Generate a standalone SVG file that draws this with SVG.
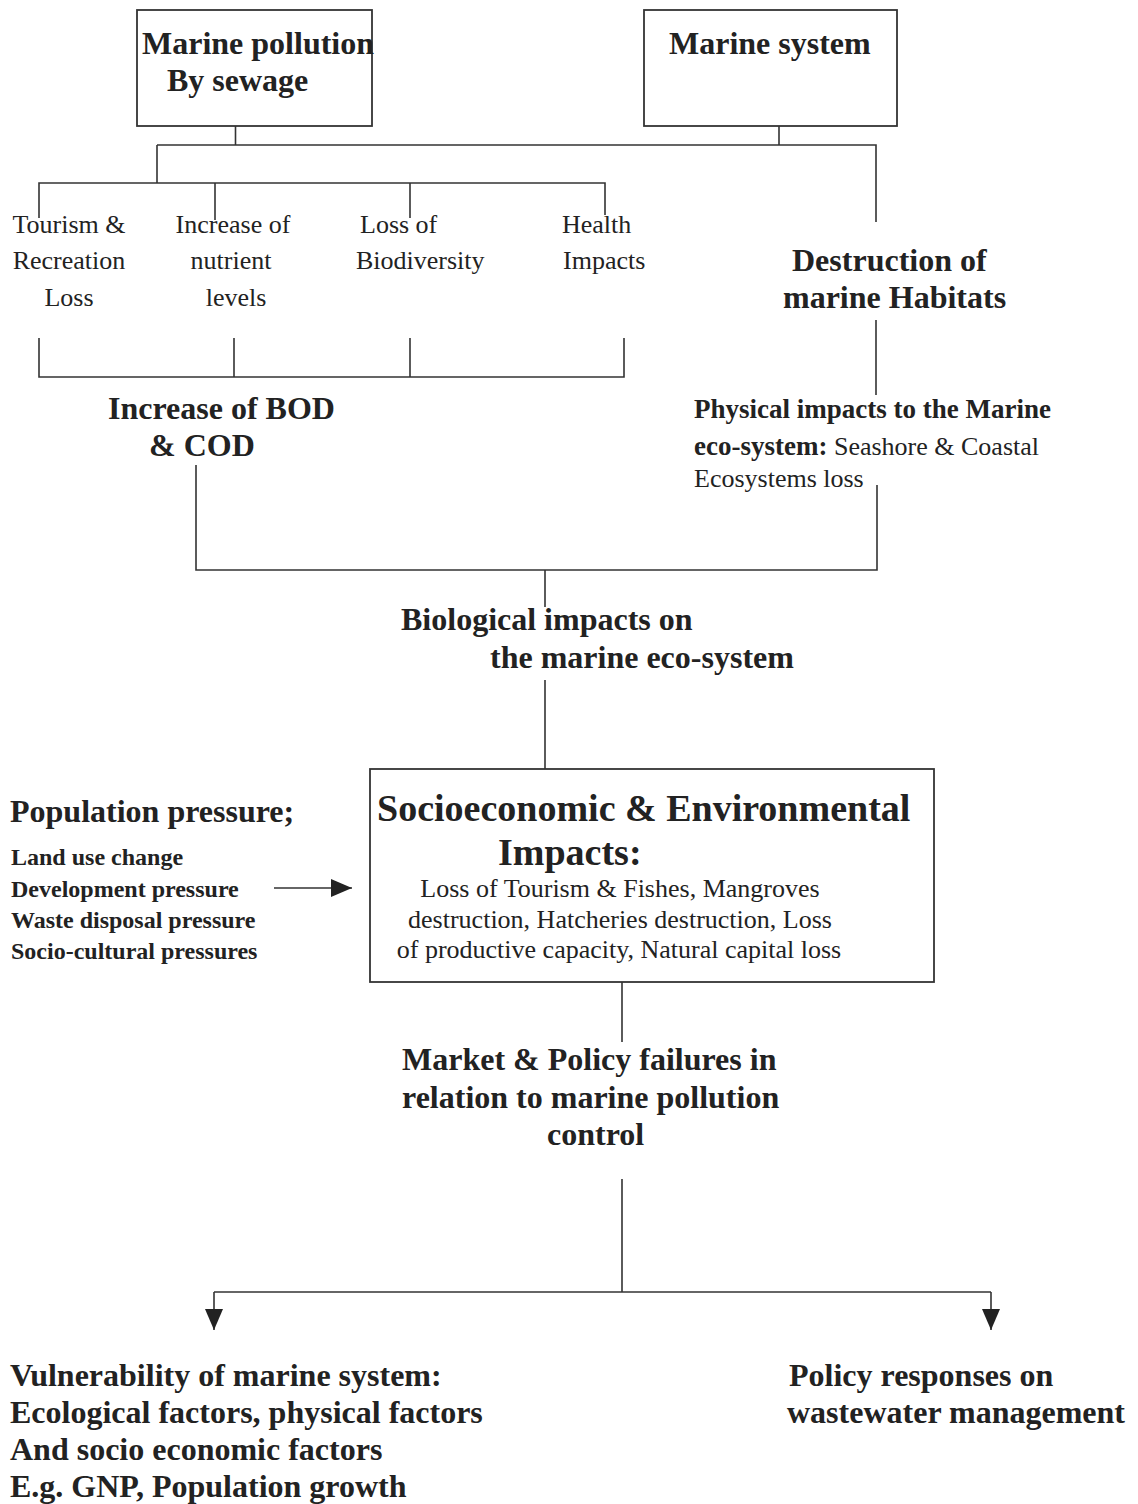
<svg xmlns="http://www.w3.org/2000/svg" width="1138" height="1504" viewBox="0 0 1138 1504">
<style>
text{font-family:"Liberation Serif","Times New Roman",serif;fill:#222}
.b{font-weight:bold;font-size:32px}
.r{font-size:26px}
.b26{font-weight:bold;font-size:27px}
.b24{font-weight:bold;font-size:24px}
.b37{font-weight:bold;font-size:38px}
.box{fill:none;stroke:#333;stroke-width:1.8}
.ln{fill:none;stroke:#333;stroke-width:1.6}
</style>
<defs>
<marker id="arr" viewBox="0 0 21 18" refX="21" refY="9" markerWidth="21" markerHeight="18" markerUnits="userSpaceOnUse" orient="auto">
<path d="M0,0 L21,9 L0,18 z" fill="#222"/>
</marker>
</defs>
<rect width="1138" height="1504" fill="#fff"/>
<g id="connectors">
<path class="ln" d="M235.5 126 V145"/>
<path class="ln" d="M779 126 V145"/>
<path class="ln" d="M157 145 H876 V222"/>
<path class="ln" d="M157 145 V183"/>
<path class="ln" d="M39 218 V183 H605 V215"/>
<path class="ln" d="M215 183 V220"/>
<path class="ln" d="M410 183 V218"/>
<path class="ln" d="M876 320 V395"/>
<path class="ln" d="M39 338 V377 H624 V338"/>
<path class="ln" d="M234 338 V377"/>
<path class="ln" d="M410 338 V377"/>
<path class="ln" d="M196 465 V570 H877 V485"/>
<path class="ln" d="M545 570 V607"/>
<path class="ln" d="M545 680 V769"/>
<path class="ln" d="M622 982 V1042"/>
<path class="ln" d="M622 1179 V1292"/>
<path class="ln" d="M214 1292 H991"/>
<path class="ln" d="M214 1292 V1330" marker-end="url(#arr)"/>
<path class="ln" d="M991 1292 V1330" marker-end="url(#arr)"/>
<path class="ln" d="M274 888 H352" marker-end="url(#arr)"/>
</g>
<g id="marine-pollution">
<rect class="box" x="137" y="10" width="235" height="116"/>
<text class="b" x="142" y="54">Marine pollution</text>
<text class="b" x="167" y="91">By sewage</text>
</g>
<g id="marine-system">
<rect class="box" x="644" y="10" width="253" height="116"/>
<text class="b" x="669" y="54">Marine system</text>
</g>
<g id="tourism">
<text class="r" text-anchor="middle" x="69" y="233">Tourism &amp;</text>
<text class="r" text-anchor="middle" x="69" y="269">Recreation</text>
<text class="r" text-anchor="middle" x="69" y="306">Loss</text>
</g>
<g id="nutrient">
<text class="r" text-anchor="middle" x="233" y="233">Increase of</text>
<text class="r" text-anchor="middle" x="231" y="269">nutrient</text>
<text class="r" text-anchor="middle" x="236" y="306">levels</text>
</g>
<g id="biodiversity">
<text class="r" x="360" y="233">Loss of</text>
<text class="r" x="356" y="269">Biodiversity</text>
</g>
<g id="health">
<text class="r" x="562" y="233">Health</text>
<text class="r" x="563" y="269">Impacts</text>
</g>
<g id="destruction">
<text class="b" x="792" y="271">Destruction of</text>
<text class="b" x="783" y="308">marine Habitats</text>
</g>
<g id="bod-cod">
<text class="b" x="108" y="419">Increase of BOD</text>
<text class="b" x="149" y="456">&amp; COD</text>
</g>
<g id="physical">
<text class="b26" x="694" y="418">Physical impacts to the Marine</text>
<text x="694" y="455"><tspan class="b26">eco-system:</tspan><tspan class="r"> Seashore &amp; Coastal</tspan></text>
<text class="r" x="694" y="487">Ecosystems loss</text>
</g>
<g id="biological">
<text class="b" x="401" y="630">Biological impacts on</text>
<text class="b" x="490" y="668">the marine eco-system</text>
</g>
<g id="population">
<text class="b" x="10" y="822">Population pressure;</text>
<text class="b24" x="11" y="865">Land use change</text>
<text class="b24" x="11" y="897">Development pressure</text>
<text class="b24" x="11" y="928">Waste disposal pressure</text>
<text class="b24" x="11" y="959">Socio-cultural pressures</text>
</g>
<g id="socioeconomic">
<rect class="box" x="370" y="769" width="564" height="213"/>
<text class="b37" x="377" y="821">Socioeconomic &amp; Environmental</text>
<text class="b37" x="498" y="865">Impacts:</text>
<text class="r" text-anchor="middle" x="620" y="897">Loss of Tourism &amp; Fishes, Mangroves</text>
<text class="r" text-anchor="middle" x="620" y="928">destruction, Hatcheries destruction, Loss</text>
<text class="r" text-anchor="middle" x="619" y="958">of productive capacity, Natural capital loss</text>
</g>
<g id="market-policy">
<text class="b" x="402" y="1070">Market &amp; Policy failures in</text>
<text class="b" x="402" y="1108">relation to marine pollution</text>
<text class="b" x="547" y="1145">control</text>
</g>
<g id="vulnerability">
<text class="b" x="10" y="1386">Vulnerability of marine system:</text>
<text class="b" x="10" y="1423">Ecological factors, physical factors</text>
<text class="b" x="10" y="1460">And socio economic factors</text>
<text class="b" x="10" y="1497">E.g. GNP, Population growth</text>
</g>
<g id="policy-responses">
<text class="b" x="789" y="1386">Policy responses on</text>
<text class="b" x="787" y="1423">wastewater management</text>
</g>
</svg>
